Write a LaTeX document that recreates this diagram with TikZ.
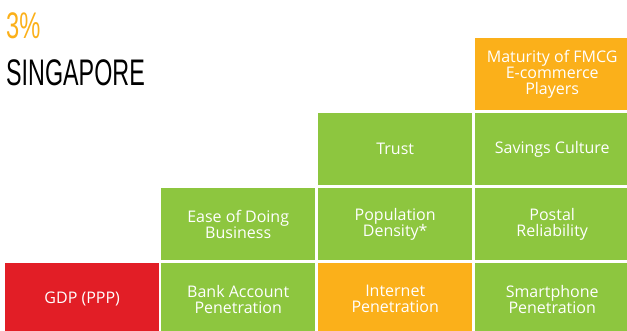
\documentclass[tikz,border=0pt]{standalone}
\usepackage{fontspec}
\setmainfont{Open Sans}
\newfontfamily\headfont{Liberation Sans}
\definecolor{leafgreen}{HTML}{8DC63F}
\definecolor{amber}{HTML}{FBB01A}
\definecolor{alarmred}{HTML}{E21E26}
\tikzset{
  cell/.style={anchor=north west, minimum width=154pt, minimum height=72pt,
    inner sep=0pt, text=white, align=center, font=\fontsize{16}{16}\selectfont},
  head/.style={anchor=base west, inner sep=0pt, font=\headfont\fontsize{37}{37}\selectfont}
}
\begin{document}
\begin{tikzpicture}[x=1pt,y=-1pt]
\useasboundingbox (0,0) rectangle (627,331);
\node[head, text=amber] (share) at (6,39) {\scalebox{0.64}[1]{3\%}};
\node[head] (country) at (6,86) {\scalebox{0.63}[1]{SINGAPORE}};
% bottom row
\node[cell, fill=alarmred] (gdp) at (5,263) {GDP (PPP)};
\node[cell, fill=leafgreen] (bank) at (161,263) {Bank Account\\Penetration};
\node[cell, fill=amber] (internet) at (318,263) {Internet\\Penetration};
\node[cell, fill=leafgreen] (phone) at (475,263) {Smartphone\\Penetration};
% second row
\node[cell, fill=leafgreen] (ease) at (161,188) {Ease of Doing\\Business};
\node[cell, fill=leafgreen] (density) at (318,188) {Population\\Density*};
\node[cell, fill=leafgreen] (postal) at (475,188) {Postal\\Reliability};
% third row
\node[cell, fill=leafgreen] (trust) at (318,113) {Trust};
\node[cell, fill=leafgreen] (savings) at (475,113) {Savings Culture};
% top
\node[cell, fill=amber] (maturity) at (475,38) {Maturity of FMCG\\E-commerce\\Players};
\end{tikzpicture}
\end{document}
